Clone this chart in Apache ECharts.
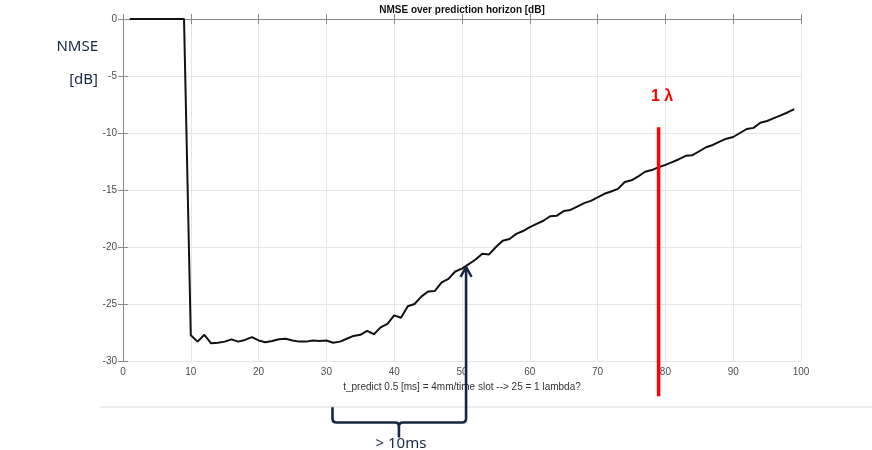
<!DOCTYPE html>
<html>
<head>
<meta charset="utf-8">
<script src="https://cdn.jsdelivr.net/npm/echarts@6/dist/echarts.min.js"></script>
<style>
html,body{margin:0;padding:0;background:#fff;}
#chart{width:872px;height:450px;}
</style>
</head>
<body>
<div id="chart"></div>
<script>
// Prediction horizon (time slots)
const horizon = [1,2,3,4,5,6,7,8,9,10,11,12,13,14,15,16,17,18,19,20,
  21,22,23,24,25,26,27,28,29,30,31,32,33,34,35,36,37,38,39,40,
  41,42,43,44,45,46,47,48,49,50,51,52,53,54,55,56,57,58,59,60,
  61,62,63,64,65,66,67,68,69,70,71,72,73,74,75,76,77,78,79,80,
  81,82,83,84,85,86,87,88,89,90,91,92,93,94,95,96,97,98,99];
// NMSE [dB]
const nmse = [0,0,0,0,0,0,0,0,0,-27.75,
  -28.3,-27.7,-28.45,-28.4,-28.3,-28.1,-28.3,-28.15,-27.9,-28.2,
  -28.35,-28.25,-28.1,-28.05,-28.2,-28.3,-28.3,-28.2,-28.25,-28.2,
  -28.4,-28.3,-28.05,-27.8,-27.7,-27.35,-27.65,-27.05,-26.75,-26.0,
  -26.2,-25.2,-25.0,-24.35,-23.9,-23.85,-23.1,-22.8,-22.15,-21.9,
  -21.5,-21.1,-20.6,-20.65,-20.0,-19.45,-19.3,-18.85,-18.6,-18.25,
  -17.97,-17.7,-17.3,-17.25,-16.85,-16.75,-16.45,-16.15,-15.95,-15.65,
  -15.33,-15.13,-14.9,-14.3,-14.15,-13.8,-13.4,-13.25,-13.0,-12.8,
  -12.55,-12.3,-12.0,-11.95,-11.6,-11.25,-11.05,-10.75,-10.5,-10.35,
  -10.0,-9.65,-9.55,-9.1,-8.95,-8.7,-8.45,-8.2,-7.9];

const xTicks = [0,10,20,30,40,50,60,70,80,90,100];
const yTicks = [-30,-25,-20,-15,-10,-5,0];

// Annotations (data coordinates)
const lambdaLineX = 79;
const lambdaLineY = [-9.5, -33.1];
const lambdaLabel = '1 λ';
const lambdaLabelPos = [79.5, -6.8];
const arrowX = 50.6;
const arrowY = [-21.7, -35.4];
const braceX = [30.9, 40.7, 50.6];
const braceY = [-34.05, -35.4, -36.7];
const braceLabel = '> 10ms';
const braceLabelPos = [41.0, -37.3];

const navy = '#172645';
const axisCol = '#8a8a8a';
const tickFont = {fontSize: 10, color: '#4d4d4d', fontFamily: 'Liberation Sans'};
const tickStyle = {show: true, inside: false, length: -5, lineStyle: {color: axisCol}};

const chart = echarts.init(document.getElementById('chart'), null, {renderer: 'canvas'});

function annot(params, api) {
  const top = api.coord([lambdaLineX, lambdaLineY[0]]);
  const bot = api.coord([lambdaLineX, lambdaLineY[1]]);
  const lab = api.coord(lambdaLabelPos);
  const tip = api.coord([arrowX, arrowY[0]]);
  const L = api.coord([braceX[0], braceY[0]]);
  const hy = api.coord([braceX[0], braceY[1]])[1];
  const mx = api.coord([braceX[1], braceY[1]])[0];
  const ny = api.coord([braceX[1], braceY[2]])[1];
  const rx = tip[0];
  const r = 4;
  const blab = api.coord(braceLabelPos);
  const path =
    'M' + rx + ' ' + tip[1] + ' L' + rx + ' ' + (hy - r) +
    ' Q' + rx + ' ' + hy + ' ' + (rx - r) + ' ' + hy +
    ' L' + (mx + r) + ' ' + hy +
    ' Q' + mx + ' ' + hy + ' ' + mx + ' ' + (hy + r) +
    ' L' + mx + ' ' + ny +
    ' M' + mx + ' ' + (hy + r) +
    ' Q' + mx + ' ' + hy + ' ' + (mx - r) + ' ' + hy +
    ' L' + (L[0] + r) + ' ' + hy +
    ' Q' + L[0] + ' ' + hy + ' ' + L[0] + ' ' + (hy - r) +
    ' L' + L[0] + ' ' + L[1];
  return {
    type: 'group',
    children: [
      {type: 'line', shape: {x1: top[0], y1: top[1], x2: bot[0], y2: bot[1]},
       style: {stroke: '#ff0000', lineWidth: 3.5}},
      {type: 'text', x: lab[0], y: lab[1],
       style: {text: lambdaLabel, fill: '#ff0000', font: 'bold 16px "Liberation Sans"', align: 'center', verticalAlign: 'middle'}},
      {type: 'path', shape: {pathData: path},
       style: {stroke: navy, lineWidth: 2.6, fill: null, lineJoin: 'round'}},
      {type: 'polyline', shape: {points: [[tip[0] - 5.5, tip[1] + 10.5], [tip[0], tip[1] + 0.5], [tip[0] + 5.5, tip[1] + 10.5]]},
       style: {stroke: navy, lineWidth: 2.4, fill: null}},
      {type: 'text', x: blab[0], y: blab[1],
       style: {text: braceLabel, fill: navy, font: '15px "Noto Sans"', align: 'center', verticalAlign: 'middle'}}
    ]
  };
}

const option = {
  animation: false,
  backgroundColor: '#ffffff',
  grid: {left: 123, right: 71, top: 19, bottom: 89, containLabel: false},
  xAxis: [{
    type: 'value', min: xTicks[0], max: xTicks[xTicks.length - 1], interval: 10,
    name: 't_predict 0.5 [ms] = 4mm/time slot --> 25 = 1 lambda?',
    nameLocation: 'middle', nameGap: 19,
    nameTextStyle: {fontSize: 10, color: '#333333', fontFamily: 'Liberation Sans'},
    axisLine: {show: true, lineStyle: {color: axisCol, width: 1}},
    axisTick: tickStyle,
    axisLabel: Object.assign({margin: 6}, tickFont),
    splitLine: {show: true, lineStyle: {color: '#e6e6e6', width: 1}}
  }, {
    type: 'value', position: 'top', min: xTicks[0], max: xTicks[xTicks.length - 1], interval: 10,
    axisLine: {show: true, lineStyle: {color: axisCol, width: 1}},
    axisTick: tickStyle,
    axisLabel: {show: false}, splitLine: {show: false}
  }],
  yAxis: [{
    type: 'value', min: yTicks[0], max: yTicks[yTicks.length - 1], interval: 5,
    axisLine: {show: true, lineStyle: {color: axisCol, width: 1}},
    axisTick: tickStyle,
    axisLabel: Object.assign({margin: 6}, tickFont),
    splitLine: {show: true, lineStyle: {color: '#e6e6e6', width: 1}}
  }, {
    type: 'value', position: 'right', min: yTicks[0], max: yTicks[yTicks.length - 1], interval: 5,
    axisLine: {show: true, lineStyle: {color: axisCol, width: 1}},
    axisTick: tickStyle,
    axisLabel: {show: false}, splitLine: {show: false}
  }],
  series: [{
    type: 'line',
    data: horizon.map((h, i) => [h, nmse[i]]),
    showSymbol: false, symbol: 'none',
    lineStyle: {color: '#111111', width: 2},
    z: 3
  }, {
    type: 'custom',
    data: [[0, 0]],
    clip: false,
    silent: true,
    renderItem: annot,
    z: 5
  }],
  graphic: [
    {type: 'text', x: 462, y: 10,
     style: {text: 'NMSE over prediction horizon [dB]', font: 'bold 10px "Liberation Sans"', fill: '#111', align: 'center', verticalAlign: 'middle'}},
    {type: 'text', x: 98, y: 47,
     style: {text: 'NMSE', font: '15px "Noto Sans"', fill: navy, align: 'right', verticalAlign: 'middle'}},
    {type: 'text', x: 98, y: 80,
     style: {text: '[dB]', font: '15px "Noto Sans"', fill: navy, align: 'right', verticalAlign: 'middle'}},
    {type: 'line', shape: {x1: 100, y1: 407, x2: 872, y2: 407},
     style: {stroke: '#d9d9d9', lineWidth: 1}, z: -1}
  ]
};
chart.setOption(option);
</script>
</body>
</html>
